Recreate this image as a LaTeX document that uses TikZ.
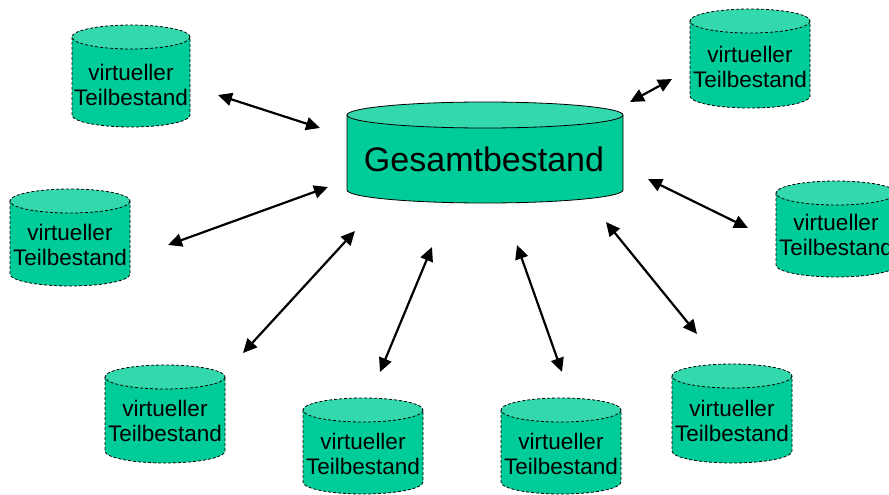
\documentclass[tikz,border=0pt]{standalone}
\usepackage{fontspec}
\setmainfont{Liberation Sans}
\usetikzlibrary{arrows.meta}
\definecolor{bodyc}{HTML}{00CC99}
\definecolor{topc}{HTML}{33D9AD}
\tikzset{
  cylline/.style={draw=black, line width=0.8pt, dash pattern=on 3pt off 2pt},
  bigline/.style={draw=black, line width=0.8pt},
  smalltext/.style={font=\fontsize{22.5}{25}\selectfont, align=center, inner sep=0pt},
  bigtext/.style={font=\fontsize{34}{37}\selectfont, inner sep=0pt},
  biarrow/.style={line width=2.2pt, {Triangle[length=14pt,width=13pt]}-{Triangle[length=14pt,width=13pt]}}
}
% #1 left x, #2 right x, #3 top y, #4 bottom y, #5 ry, #6 line style
\newcommand{\mycyl}[6]{%
  \pgfmathsetmacro{\cx}{(#1+#2)/2}\pgfmathsetmacro{\rx}{(#2-#1)/2}%
  \fill[bodyc] ({#1},{#3+#5}) -- ({#1},{#4-#5}) arc[start angle=180,end angle=0,x radius=\rx,y radius=#5] -- ({#2},{#3+#5}) -- cycle;
  \draw[#6] ({#1},{#3+#5}) -- ({#1},{#4-#5}) arc[start angle=180,end angle=0,x radius=\rx,y radius=#5] -- ({#2},{#3+#5});
  \filldraw[fill=topc,#6] (\cx,{#3+#5}) ellipse[x radius=\rx,y radius=#5];
}
\begin{document}
\begin{tikzpicture}[x=1pt,y=-1pt]
\useasboundingbox (0,0) rectangle (889,495);
% big cylinder
\mycyl{347}{623}{102}{203}{13}{bigline}
\node[bigtext] (G) at (484,159) {Gesamtbestand};
% small cylinders
\mycyl{72}{190}{25}{127}{12}{cylline}
\node[smalltext] (c1) at (131,85) {virtueller\\Teilbestand};
\mycyl{10}{130}{189}{286}{12}{cylline}
\node[smalltext] (c2) at (70,245) {virtueller\\Teilbestand};
\mycyl{105}{225}{365}{463}{12}{cylline}
\node[smalltext] (c3) at (165,421) {virtueller\\Teilbestand};
\mycyl{303}{423}{398}{494}{12}{cylline}
\node[smalltext] (c4) at (363,454) {virtueller\\Teilbestand};
\mycyl{501}{621}{398}{494}{12}{cylline}
\node[smalltext] (c5) at (561,454) {virtueller\\Teilbestand};
\mycyl{672}{792}{364}{463}{12}{cylline}
\node[smalltext] (c6) at (732,421) {virtueller\\Teilbestand};
\mycyl{776}{896}{181}{277}{12}{cylline}
\node[smalltext] (c7) at (836,235) {virtueller\\Teilbestand};
\mycyl{690}{810}{9}{108}{12}{cylline}
\node[smalltext] (c8) at (750,67) {virtueller\\Teilbestand};
% arrow end points
\coordinate (a1s) at (218,95);  \coordinate (a1e) at (320,128);
\coordinate (a2s) at (168,245); \coordinate (a2e) at (328,187);
\coordinate (a3s) at (243,353); \coordinate (a3e) at (355,231);
\coordinate (a4s) at (380,372); \coordinate (a4e) at (432,247);
\coordinate (a5s) at (517,245); \coordinate (a5e) at (562,372);
\coordinate (a6s) at (606,222); \coordinate (a6e) at (697,334);
\coordinate (a7s) at (648,179); \coordinate (a7e) at (748,228);
\coordinate (a8s) at (630,102); \coordinate (a8e) at (672,79);
\draw[biarrow] (a1s) -- (a1e);
\draw[biarrow] (a2s) -- (a2e);
\draw[biarrow] (a3s) -- (a3e);
\draw[biarrow] (a4s) -- (a4e);
\draw[biarrow] (a5s) -- (a5e);
\draw[biarrow] (a6s) -- (a6e);
\draw[biarrow] (a7s) -- (a7e);
\draw[biarrow] (a8s) -- (a8e);
\end{tikzpicture}
\end{document}
